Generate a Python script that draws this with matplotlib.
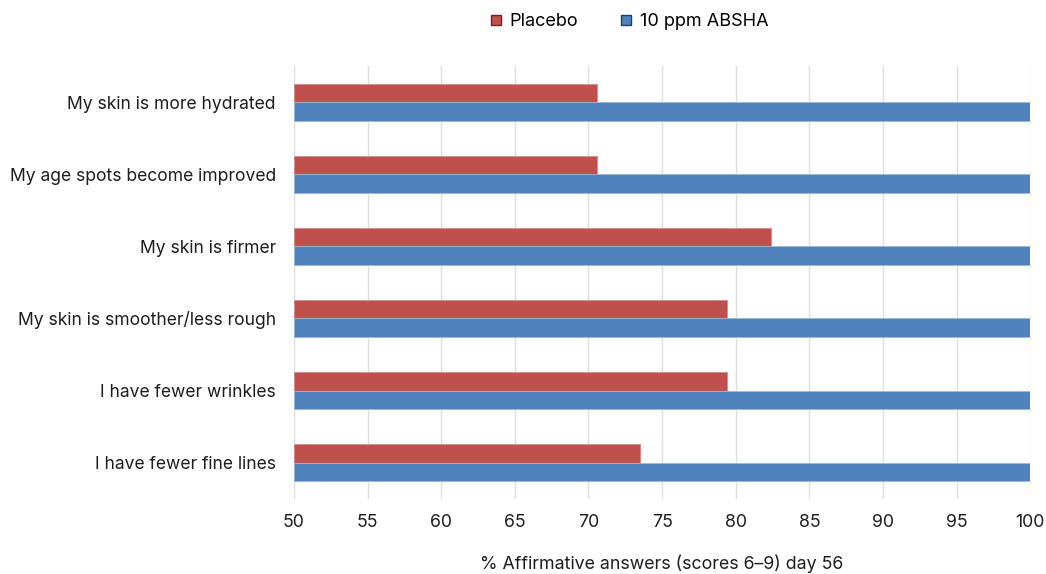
import matplotlib
matplotlib.use("Agg")
import matplotlib.pyplot as plt
from matplotlib.lines import Line2D
import numpy as np

plt.rcParams['font.family'] = ['Inter', 'DejaVu Sans']

categories = [
    "My skin is more hydrated",
    "My age spots become improved",
    "My skin is firmer",
    "My skin is smoother/less rough",
    "I have fewer wrinkles",
    "I have fewer fine lines",
]
placebo = [70.6, 70.6, 82.4, 79.4, 79.4, 73.5]
absha = [100, 100, 100, 100, 100, 100]
series_names = ["Placebo", "10 ppm ABSHA"]
xticks = [50, 55, 60, 65, 70, 75, 80, 85, 90, 95, 100]

red = "#C0504D"
blue = "#4F81BD"
text_color = "#1E1E1E"

fig = plt.figure(figsize=(10.46, 5.74), dpi=100)
ax = fig.add_axes([0.281, 0.131, 0.704, 0.754])

y = np.arange(len(categories))
h = 0.256
base = 50
ax.barh(y - h / 2, np.array(placebo) - base, left=base, height=h,
        color=red, edgecolor="#D98A88", linewidth=0.6, zorder=2)
ax.barh(y + h / 2, np.array(absha) - base, left=base, height=h,
        color=blue, edgecolor="#9CB8DC", linewidth=0.6, zorder=2)

ax.set_xlim(50, 100)
ax.set_ylim(len(categories) - 0.5, -0.5)
ax.set_yticks(y)
ax.set_yticklabels(categories, fontsize=12.6, color=text_color)
ax.set_xticks(xticks)
ax.set_xticklabels([str(t) for t in xticks], fontsize=12.8, color=text_color)
ax.tick_params(length=0)
ax.tick_params(axis="y", pad=13)
ax.tick_params(axis="x", pad=11)
ax.grid(axis="x", color="#DDDDDD", linewidth=1.0, zorder=0)
ax.set_axisbelow(True)
for s in ax.spines.values():
    s.set_visible(False)

ax.set_xlabel("% Affirmative answers (scores 6\u20139) day 56", fontsize=12.8,
              color=text_color, labelpad=17)

handles = [
    Line2D([], [], marker="s", linestyle="none", markersize=7,
           markerfacecolor=red, markeredgecolor="#7A1F1C"),
    Line2D([], [], marker="s", linestyle="none", markersize=7,
           markerfacecolor=blue, markeredgecolor="#1F3F6B"),
]
fig.legend(handles, series_names, loc="center", bbox_to_anchor=(0.60, 0.962),
           ncol=2, frameon=False, fontsize=13, handletextpad=0.25,
           columnspacing=2.2, handlelength=1.0)

fig.savefig("out.png", dpi=100)
